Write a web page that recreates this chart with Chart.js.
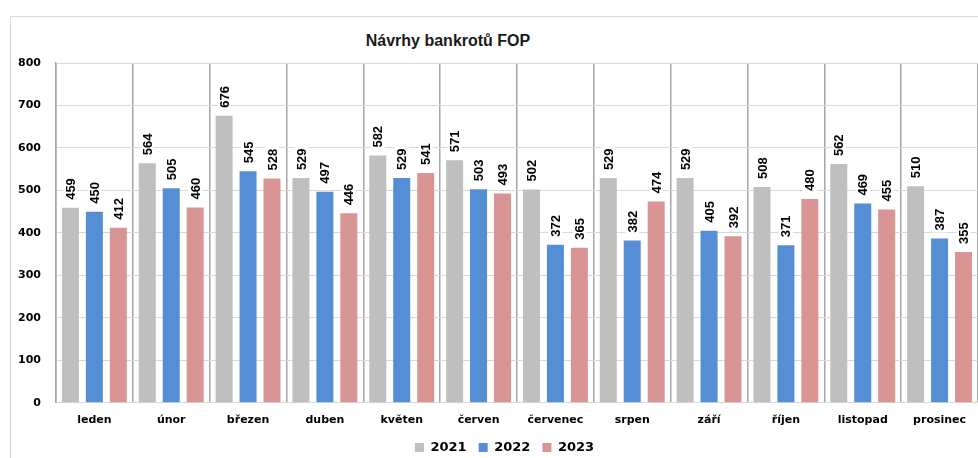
<!DOCTYPE html>
<html>
<head>
<meta charset="utf-8">
<script src="https://cdn.jsdelivr.net/npm/chart.js@4"></script>
<style>
  html, body { margin: 0; padding: 0; background: #fff; overflow: hidden; }
  #wrap { position: relative; width: 978px; height: 458px; }
  #frame { position: absolute; left: 10px; top: 16px; width: 1000px; height: 500px; border: 1px solid #d9d9d9; }
  #title { position: absolute; left: 0; width: 896px; top: 32px; text-align: center;
           font: bold 16px "Liberation Sans", Arial, sans-serif; color: #1a1a1a; }
  canvas { position: absolute; left: 0; top: 0; }
</style>
</head>
<body>
<div id="wrap">
  <div id="frame"></div>
  <div id="title">Návrhy bankrotů FOP</div>
  <canvas id="c" width="978" height="458"></canvas>
</div>
<script>
// months (categories)
var months = ['leden', 'únor', 'březen', 'duben', 'květen', 'červen',
  'červenec', 'srpen', 'září', 'říjen', 'listopad', 'prosinec'];

// series values
var y2021 = [459, 564, 676, 529, 582, 571, 502, 529, 529, 508, 562, 510];
var y2022 = [450, 505, 545, 497, 529, 503, 372, 382, 405, 371, 469, 387];
var y2023 = [412, 460, 528, 446, 541, 493, 365, 474, 392, 480, 455, 355];

var seriesNames = ['2021', '2022', '2023'];
var seriesColors = ['#bfbfbf', '#558ed5', '#d99594'];

// y axis range
var yMin = 0, yMax = 800, yStep = 100;

var tickFont = { family: 'DejaVu Sans', weight: 'bold', size: 11 };

// draws the rotated value labels above each bar
var valueLabels = {
  id: 'valueLabels',
  afterDatasetsDraw: function (chart) {
    var ctx = chart.ctx;
    ctx.save();
    ctx.font = 'bold 13px "Liberation Sans Narrow", "Liberation Sans", sans-serif';
    chart.data.datasets.forEach(function (ds, di) {
      var meta = chart.getDatasetMeta(di);
      meta.data.forEach(function (bar, i) {
        var txt = String(ds.data[i]);
        var w = ctx.measureText(txt).width;
        ctx.save();
        ctx.translate(bar.x, bar.y - 8);
        ctx.rotate(-Math.PI / 2);
        ctx.fillStyle = '#ffffff';
        ctx.fillRect(-2, -7, w + 4, 14);
        ctx.fillStyle = '#000000';
        ctx.textAlign = 'left';
        ctx.textBaseline = 'middle';
        ctx.fillText(txt, 0, 1);
        ctx.restore();
      });
    });
    ctx.restore();
  }
};

// legend sits a little right of the canvas centre in the original
var legendShift = {
  id: 'legendShift',
  afterLayout: function (chart) {
    chart.legend.left += 14;
    chart.legend.right += 14;
  }
};

var datasets = [y2021, y2022, y2023].map(function (d, k) {
  return {
    label: seriesNames[k],
    data: d,
    backgroundColor: seriesColors[k],
    borderWidth: 0,
    categoryPercentage: 0.935,
    barPercentage: 0.71
  };
});

new Chart(document.getElementById('c'), {
  type: 'bar',
  data: { labels: months, datasets: datasets },
  options: {
    responsive: false,
    animation: false,
    layout: { padding: { left: 3, top: 63, right: 0, bottom: -6 } },
    plugins: {
      legend: {
        position: 'bottom',
        labels: {
          boxWidth: 9,
          boxHeight: 9,
          padding: 3,
          color: '#000',
          font: { family: 'DejaVu Sans', weight: 'bold', size: 13 },
          // wider gap between items without a taller legend
          generateLabels: function (chart) {
            var items = Chart.defaults.plugins.legend.labels.generateLabels(chart);
            items.forEach(function (it, i) {
              if (i < items.length - 1) it.text = it.text + '  ';
            });
            return items;
          }
        }
      },
      tooltip: { enabled: false }
    },
    scales: {
      x: {
        grid: { color: '#a6a6a6', lineWidth: 1.5, drawTicks: false },
        border: { color: '#d9d9d9' },
        ticks: { color: '#000', font: tickFont, padding: 11 }
      },
      y: {
        min: yMin,
        max: yMax,
        grid: { color: '#d9d9d9', drawTicks: false },
        border: { color: '#a6a6a6', width: 1.5 },
        ticks: { stepSize: yStep, color: '#000', font: tickFont, padding: 15 }
      }
    }
  },
  plugins: [valueLabels, legendShift]
});
</script>
</body>
</html>
